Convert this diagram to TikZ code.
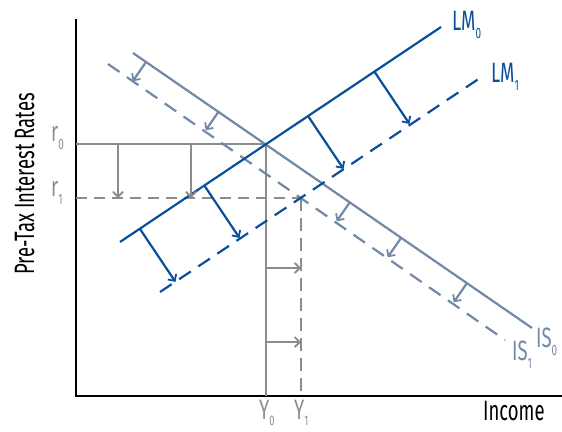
\documentclass[tikz,border=0pt]{standalone}
\usepackage{fontspec}
\setmainfont{Fira Sans}[FakeStretch=0.66]
\usetikzlibrary{arrows.meta}
\definecolor{lmblue}{HTML}{0B4F9C}
\definecolor{isgray}{HTML}{7189A6}
\definecolor{lgray}{HTML}{8C8C8C}
\newcommand{\lowsub}[1]{\raisebox{-0.3em}{\fontsize{15}{15}\selectfont #1}}
\newcommand{\lowsubb}[1]{\raisebox{-0.22em}{\fontsize{14}{14}\selectfont #1}}
\begin{document}
\begin{tikzpicture}[x=1pt,y=-1pt,
  lm/.style={lmblue,line width=2.2pt},
  is/.style={isgray,line width=2.2pt},
  gr/.style={lgray,line width=2.2pt},
  lmdash/.style={dash pattern=on 14pt off 9pt},
  grdash/.style={dash pattern=on 11pt off 7pt},
  arr/.style={-{Straight Barb[length=5pt,width=10pt,line width=1.8pt]}},
  lbl/.style={font=\fontsize{28}{28}\selectfont, inner sep=0, anchor=base west},
  ]
\useasboundingbox (0,0) rectangle (562,431);
% axes
\coordinate (ytop) at (76,19);
\coordinate (O) at (76,396);
\coordinate (xend) at (562,396);
\draw[line width=2.6pt] (ytop) -- (O) -- (xend);
% curve end points
\coordinate (lm0a) at (120,242); \coordinate (lm0b) at (441,27);
\coordinate (lm1a) at (160,292); \coordinate (lm1b) at (480,78);
\coordinate (is0a) at (133,53);  \coordinate (is0b) at (532,328);
\coordinate (is1a) at (108,64);  \coordinate (is1b) at (505,340);
\coordinate (E0) at (266,144);   \coordinate (E1) at (301,198);
\coordinate (r0) at (76,144);    \coordinate (r1) at (76,198);
\coordinate (Y0) at (266,396);   \coordinate (Y1) at (301,396);
% gray guide lines
\draw[gr] (r0) -- (E0) -- (Y0);
\draw[gr,grdash] (r1) -- (E1);
\draw[gr,dash pattern=on 13pt off 7pt] (E1) -- (Y1);
% IS curves
\draw[is] (is0a) -- (is0b);
\draw[is,lmdash] (is1a) -- (is1b);
% LM curves
\draw[lm] (lm0a) -- (lm0b);
\draw[lm,lmdash] (lm1a) -- (lm1b);
% gray arrows
\foreach \x/\n in {118/a,191/b}{
  \coordinate (ga\n) at (\x,144); \coordinate (gb\n) at (\x,198);
  \draw[gr,arr] (ga\n) -- (gb\n);}
\foreach \y/\n in {268/a,342/b}{
  \coordinate (ha\n) at (266,\y); \coordinate (hb\n) at (301,\y);
  \draw[gr,arr] (ha\n) -- (hb\n);}
% blue arrows
\foreach \x/\y/\n in {140/229/a,204/185/b,308/116/c,374/71/d}{
  \coordinate (ba\n) at (\x,\y); \coordinate (bb\n) at (\x+35.5,\y+52.9);
  \draw[lm,arr] (ba\n) -- (bb\n);}
% IS arrows
\foreach \x/\y/\n in {146/62/a,219/111/b,350/202/c,401/238/d,467/283/e}{
  \coordinate (ia\n) at (\x,\y); \coordinate (ib\n) at (\x-13.3,\y+19.3);
  \draw[is,arr] (ia\n) -- (ib\n);}
% labels
\node[lbl,lmblue] (tLM0) at (452,30) {LM\lowsub{0}};
\node[lbl,lmblue] (tLM1) at (491,82) {LM\lowsub{1}};
\node[lbl,isgray] (tIS0) at (536,347) {IS\lowsub{0}};
\node[lbl,isgray] (tIS1) at (512,360) {IS\lowsub{1}};
\node[lbl,lgray] (tr0) at (51,141) {r\lowsub{0}};
\node[lbl,lgray] (tr1) at (51,196) {r\lowsub{1}};
\node[lbl,lgray] (tY0) at (259,419) {Y\lowsubb{0}};
\node[lbl,lgray] (tY1) at (294,419) {Y\lowsubb{1}};
\node[lbl] (tinc) at (483,420) {Income};
\node[font=\fontsize{28}{28}\selectfont, inner sep=0, rotate=90, anchor=base] (tyax) at (34,184) {Pre-Tax Interest Rates};
\end{tikzpicture}
\end{document}
